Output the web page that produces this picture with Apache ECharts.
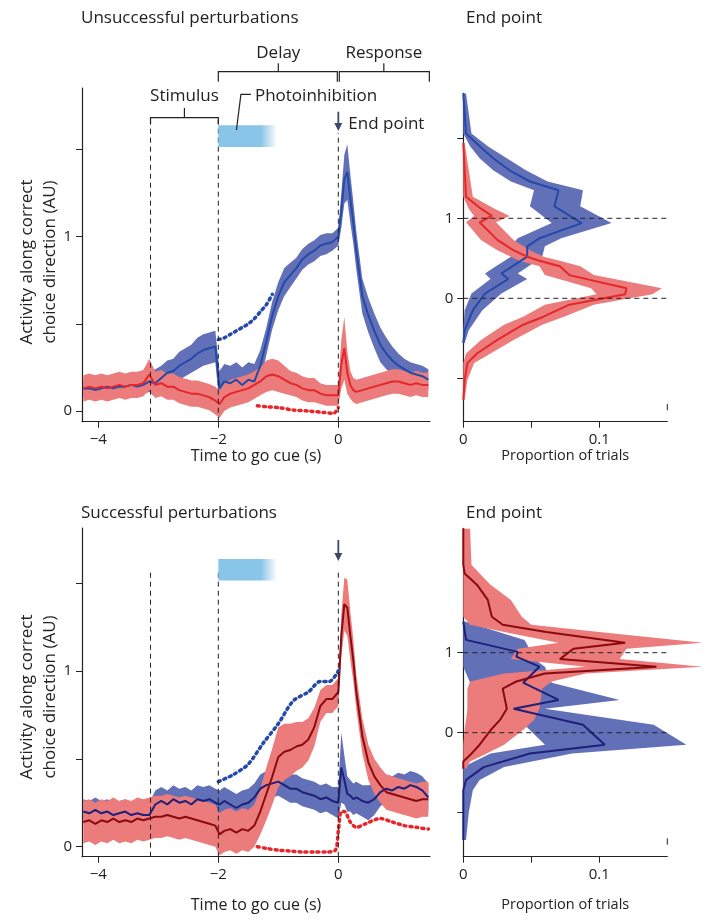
<!DOCTYPE html>
<html lang="en">
<head>
  <meta charset="UTF-8">
  <title>Activity along correct choice direction</title>
  <script src="https://cdn.jsdelivr.net/npm/echarts@6/dist/echarts.min.js"></script>
  <style>
    html, body { margin: 0; padding: 0; background: #fff; }
    #main { width: 712px; height: 921px; }
  </style>
</head>
<body>
  <div id="main"></div>
  <script>
    // time to go cue (s), shared by the two left panels
    var timeS = [-4.25,-4.15,-4.05,-3.95,-3.85,-3.75,-3.65,-3.55,-3.45,-3.35,
      -3.25,-3.15,-3.05,-2.95,-2.85,-2.75,-2.65,-2.55,-2.45,-2.35,
      -2.25,-2.15,-2.05,-1.98,-1.9,
      -1.8,-1.7,-1.6,-1.5,-1.4,-1.3,-1.2,-1.1,-1.0,-0.9,
      -0.8,-0.7,-0.6,-0.5,-0.4,-0.3,-0.2,-0.1,0,
      0.05,0.1,0.15,0.2,0.25,0.3,
      0.4,0.5,0.6,0.7,0.8,0.9,1.0,1.1,1.2,1.3,1.4,1.5];

    // unsuccessful perturbations
    var unsBlue = [0.13,0.13,0.12,0.13,0.14,0.13,0.14,0.14,0.15,0.14,
      0.15,0.17,0.16,0.19,0.22,0.23,0.26,0.28,0.30,0.33,
      0.35,0.36,0.37,0.13,0.17,
      0.16,0.18,0.15,0.18,0.17,0.26,0.40,0.55,0.66,0.74,
      0.78,0.82,0.87,0.90,0.92,0.95,0.96,0.97,1.00,
      1.15,1.33,1.37,1.22,1.08,0.92,
      0.66,0.55,0.46,0.38,0.33,0.29,0.26,0.24,0.22,0.21,0.20,0.18];
    var unsBlueErr = [0.05,0.05,0.05,0.05,0.05,0.05,0.05,0.05,0.05,0.05,
      0.05,0.06,0.08,0.07,0.07,0.07,0.08,0.08,0.08,0.09,
      0.09,0.09,0.09,0.1,0.1,
      0.1,0.1,0.1,0.1,0.1,0.09,0.08,0.08,0.08,0.08,
      0.07,0.06,0.06,0.06,0.06,0.06,0.06,0.05,0.05,
      0.1,0.14,0.16,0.14,0.12,0.11,
      0.1,0.1,0.1,0.1,0.09,0.08,0.07,0.06,0.06,0.06,0.06,0.06];
    var unsRed = [0.13,0.14,0.13,0.14,0.13,0.14,0.15,0.14,0.15,0.15,
      0.16,0.21,0.15,0.16,0.14,0.14,0.12,0.11,0.10,0.10,
      0.09,0.08,0.06,0.04,0.08,
      0.10,0.11,0.12,0.13,0.15,0.17,0.20,0.21,0.20,0.18,
      0.16,0.15,0.13,0.12,0.12,0.10,0.09,0.09,0.09,
      0.27,0.36,0.22,0.15,0.12,0.11,
      0.12,0.13,0.14,0.15,0.16,0.17,0.17,0.16,0.15,0.16,0.15,0.15];
    var unsRedErr = [0.075,0.075,0.075,0.075,0.075,0.075,0.075,0.075,0.075,0.075,
      0.075,0.09,0.075,0.075,0.075,0.075,0.075,0.075,0.075,0.075,
      0.075,0.075,0.08,0.08,0.08,
      0.08,0.08,0.08,0.08,0.08,0.08,0.09,0.09,0.09,0.08,
      0.07,0.07,0.07,0.07,0.07,0.06,0.06,0.06,0.06,
      0.14,0.18,0.12,0.08,0.07,0.07,
      0.07,0.07,0.07,0.07,0.07,0.07,0.07,0.07,0.07,0.07,0.07,0.07];
    var unsBlueDotT = [-2,-1.9,-1.8,-1.7,-1.6,-1.5,-1.4,-1.3,-1.2,-1.1];
    var unsBlueDot = [0.41,0.42,0.44,0.46,0.48,0.50,0.53,0.57,0.61,0.67];
    var unsRedDotT = [-1.35,-1.2,-1.0,-0.75,-0.5,-0.25,-0.08,0];
    var unsRedDot = [0.03,0.025,0.02,0.006,0.0,-0.008,-0.013,0.02];

    // successful perturbations
    var sucRed = [0.14,0.15,0.13,0.15,0.14,0.16,0.14,0.15,0.14,0.16,
      0.15,0.16,0.17,0.17,0.18,0.17,0.16,0.17,0.16,0.15,
      0.14,0.13,0.12,0.07,0.09,
      0.10,0.08,0.10,0.09,0.12,0.20,0.30,0.40,0.51,0.54,
      0.55,0.57,0.58,0.61,0.68,0.80,0.84,0.84,0.88,
      1.20,1.38,1.36,1.20,1.06,0.88,
      0.63,0.48,0.40,0.35,0.31,0.30,0.29,0.28,0.27,0.26,0.27,0.27];
    var sucRedErr = [0.12,0.12,0.12,0.12,0.12,0.12,0.12,0.12,0.12,0.12,
      0.12,0.12,0.12,0.12,0.12,0.12,0.12,0.12,0.12,0.12,
      0.12,0.12,0.12,0.12,0.12,
      0.12,0.12,0.12,0.12,0.12,0.13,0.15,0.16,0.17,0.16,
      0.15,0.14,0.13,0.12,0.11,0.09,0.08,0.08,0.08,
      0.12,0.15,0.16,0.14,0.12,0.1,
      0.1,0.1,0.1,0.1,0.1,0.1,0.1,0.1,0.1,0.1,0.1,0.1];
    var sucBlue = [0.20,0.19,0.21,0.19,0.20,0.18,0.19,0.20,0.18,0.19,
      0.18,0.18,0.24,0.26,0.24,0.27,0.25,0.26,0.24,0.27,
      0.26,0.27,0.25,0.24,0.26,
      0.24,0.22,0.24,0.25,0.28,0.33,0.35,0.36,0.37,0.35,
      0.33,0.33,0.31,0.30,0.29,0.27,0.28,0.26,0.25,
      0.45,0.38,0.30,0.29,0.27,0.28,
      0.26,0.25,0.27,0.31,0.33,0.32,0.34,0.33,0.35,0.34,0.32,0.28];
    var sucBlueErr = [0.07,0.07,0.07,0.07,0.07,0.07,0.07,0.07,0.07,0.07,
      0.07,0.07,0.08,0.08,0.08,0.08,0.08,0.08,0.08,0.08,
      0.08,0.08,0.08,0.08,0.08,
      0.08,0.08,0.08,0.08,0.08,0.08,0.08,0.08,0.08,0.08,
      0.08,0.08,0.08,0.08,0.08,0.08,0.08,0.08,0.09,
      0.2,0.14,0.1,0.09,0.09,0.09,
      0.09,0.1,0.09,0.08,0.08,0.08,0.08,0.08,0.08,0.08,0.08,0.08];
    var sucBlueDotT = [-2,-1.75,-1.5,-1.25,-1.0,-0.75,-0.5,-0.3,-0.15,0];
    var sucBlueDot = [0.37,0.41,0.47,0.59,0.70,0.83,0.88,0.94,0.94,1.0];
    var sucRedDotT = [-1.35,-1.2,-1.0,-0.8,-0.6,-0.4,-0.2,-0.05,0,0.05,0.1,0.2,0.3,0.45,0.7,0.9,1.1,1.3,1.5];
    var sucRedDot = [0.0,-0.01,-0.02,-0.025,-0.03,-0.03,-0.03,-0.02,0.09,0.2,0.2,0.14,0.11,0.13,0.16,0.14,0.12,0.11,0.10];

    // end point distributions (activity level, proportion of trials)
    var epUnsBlueY = [2.56,2.06,1.9,1.75,1.6,1.46,1.35,1.15,0.94,0.75,0.65,0.52,0.4,0.31,0.24,0.06,-0.15,-0.4,-0.56];
    var epUnsBlue = [0,0.002,0.012,0.022,0.034,0.049,0.070,0.067,0.087,0.056,0.047,0.047,0.036,0.028,0.033,0.016,0.007,0.001,0];
    var epUnsBlueLo = [0,0,0.005,0.012,0.022,0.035,0.052,0.049,0.065,0.04,0.035,0.035,0.024,0.016,0.02,0.006,0.001,0,0];
    var epUnsBlueHi = [0.002,0.006,0.018,0.032,0.046,0.062,0.088,0.086,0.109,0.072,0.06,0.058,0.048,0.04,0.047,0.028,0.014,0.004,0.001];
    var epUnsRedY = [1.94,1.27,1.12,1.03,0.95,0.73,0.6,0.52,0.47,0.4,0.29,0.125,0.05,-0.08,-0.23,-0.33,-0.52,-0.69,-0.81,-1.02,-1.27];
    var epUnsRed = [0,0.002,0.013,0.021,0.012,0.025,0.037,0.047,0.056,0.071,0.078,0.120,0.119,0.078,0.059,0.044,0.025,0.010,0.003,0.001,0];
    var epUnsRedLo = [0,0,0.004,0.008,0.002,0.013,0.025,0.035,0.041,0.056,0.06,0.094,0.098,0.06,0.044,0.03,0.013,0.002,0,0,0];
    var epUnsRedHi = [0.001,0.007,0.023,0.034,0.024,0.037,0.049,0.059,0.071,0.086,0.096,0.146,0.139,0.096,0.074,0.058,0.037,0.02,0.008,0.003,0.001];

    var epSucRedY = [2.55,2.1,1.99,1.85,1.66,1.45,1.35,1.26,1.125,1.05,0.92,0.825,0.74,0.64,0.55,0.30,0.16,0.05,-0.15,-0.28,-0.36,-0.45];
    var epSucRed = [0,0,0.001,0.010,0.018,0.021,0.029,0.061,0.119,0.081,0.071,0.142,0.060,0.039,0.029,0.032,0.027,0.021,0.012,0.005,0,0];
    var epSucRedLo = [0,0,0,0,0,0,0.005,0.03,0.07,0.04,0.035,0.09,0.03,0.005,0.003,0.003,0.002,0.001,0,0,0,0];
    var epSucRedHi = [0.005,0.006,0.012,0.02,0.035,0.043,0.05,0.1,0.176,0.12,0.115,0.176,0.09,0.065,0.058,0.056,0.052,0.045,0.03,0.015,0.005,0.002];
    var epSucBlueY = [1.39,1.16,1.01,0.95,0.825,0.625,0.41,0.30,0.10,-0.15,-0.26,-0.43,-0.59,-0.72,-1.0,-1.34];
    var epSucBlue = [0,0.002,0.040,0.039,0.056,0.044,0.070,0.037,0.088,0.104,0.049,0.015,0.002,0,0,0];
    var epSucBlueLo = [0,0,0,0,0,0.005,0.05,0.02,0.045,0.06,0.02,0,0,0,0,0];
    var epSucBlueHi = [0.001,0.045,0.05,0.05,0.06,0.065,0.115,0.06,0.14,0.164,0.08,0.03,0.012,0.007,0.004,0.002];

    // task epochs (s)
    var stimOn = -3.13, delayOn = -2, goCue = 0, photoOff = -1.02, respEnd = 1.517;

    var FONT = '"Open Sans", "Noto Sans", sans-serif';
    var INK = '#222';
    var BAND_BLUE = '#6270b8', LINE_BLUE = '#2449a8';
    var BAND_RED = '#ec7b7b', LINE_RED = '#e5262b';
    var LINE_DARKRED = '#8a0a10', LINE_NAVY = '#1e207a';

    function zip(a, b) { return a.map(function (v, i) { return [v, b[i]]; }); }
    function minus(a, e) { return a.map(function (v, i) { return v - e[i]; }); }
    function plus(a, e) { return a.map(function (v, i) { return v + e[i]; }); }
    function fmt(v) { return v < 0 ? '\u2212' + Math.abs(v) : String(v); }

    // filled band between lo and hi; vertical = band runs along the y axis
    function band(gi, base, lo, hi, color, vertical) {
      return {
        type: 'custom', xAxisIndex: gi, yAxisIndex: gi, silent: true, z: 1,
        data: [[vertical ? 0 : base[0], vertical ? base[0] : 0]],
        renderItem: function (params, api) {
          var pts = [];
          for (var i = 0; i < base.length; i++) pts.push(api.coord(vertical ? [lo[i], base[i]] : [base[i], lo[i]]));
          for (var j = base.length - 1; j >= 0; j--) pts.push(api.coord(vertical ? [hi[j], base[j]] : [base[j], hi[j]]));
          return { type: 'polygon', shape: { points: pts }, style: { fill: color } };
        }
      };
    }
    function line(gi, data, color, width, z) {
      return {
        type: 'line', xAxisIndex: gi, yAxisIndex: gi, data: data, showSymbol: false, silent: true,
        lineStyle: { color: color, width: width || 2 }, z: z || 3
      };
    }
    function dotted(gi, data, color) {
      return {
        type: 'line', xAxisIndex: gi, yAxisIndex: gi, data: data, showSymbol: false, silent: true, smooth: 0.3,
        lineStyle: { color: color, width: 3.5, type: [2, 4], cap: 'round' }, z: 4
      };
    }
    function dashed(gi, data) {
      return {
        type: 'line', xAxisIndex: gi, yAxisIndex: gi, data: data, showSymbol: false, silent: true,
        lineStyle: { color: INK, width: 1, type: [5, 4] }, z: 5
      };
    }

    function timeAxis(gi, gap) {
      return {
        type: 'value', gridIndex: gi, min: -4.272, max: 1.528, position: 'bottom',
        name: 'Time to go cue (s)', nameLocation: 'middle', nameGap: gap,
        nameTextStyle: { fontSize: 16, color: INK, fontFamily: FONT },
        axisLine: { onZero: false, lineStyle: { color: INK, width: 1.2 } },
        axisTick: { customValues: [-4, -2, 0], length: 6, lineStyle: { color: INK } },
        axisLabel: { customValues: [-4, -2, 0], formatter: fmt, fontSize: 15, color: INK, margin: 11, fontFamily: FONT },
        splitLine: { show: false }
      };
    }
    function propAxis(gi, gap) {
      return {
        type: 'value', gridIndex: gi, min: 0, max: 0.15, position: 'bottom',
        name: 'Proportion of trials', nameLocation: 'middle', nameGap: gap,
        nameTextStyle: { fontSize: 14.5, color: INK, fontFamily: FONT },
        axisLine: { onZero: false, lineStyle: { color: INK, width: 1.2 } },
        axisTick: { customValues: [0, 0.05, 0.1], length: 6, lineStyle: { color: INK } },
        axisLabel: { customValues: [0, 0.1], fontSize: 15, color: INK, margin: 11, fontFamily: FONT },
        splitLine: { show: false }
      };
    }
    function valAxis(gi, min, max, ticks) {
      return {
        type: 'value', gridIndex: gi, min: min, max: max,
        axisLine: { show: true, onZero: false, lineStyle: { color: INK, width: 1.2 } },
        axisTick: { show: true, customValues: ticks, length: 6, lineStyle: { color: INK } },
        axisLabel: { customValues: [0, 1], fontSize: 15, color: INK, margin: 10, fontFamily: FONT },
        splitLine: { show: false }
      };
    }

    var series = [
      // unsuccessful, time course
      band(0, timeS, minus(unsBlue, unsBlueErr), plus(unsBlue, unsBlueErr), BAND_BLUE),
      band(0, timeS, minus(unsRed, unsRedErr), plus(unsRed, unsRedErr), BAND_RED),
      line(0, zip(timeS, unsBlue), LINE_BLUE),
      line(0, zip(timeS, unsRed), LINE_RED),
      dotted(0, zip(unsBlueDotT, unsBlueDot), LINE_BLUE),
      dotted(0, zip(unsRedDotT, unsRedDot), LINE_RED),
      dashed(0, [[stimOn, -0.061], [stimOn, 1.683]]),
      dashed(0, [[delayOn, -0.061], [delayOn, 1.683]]),
      dashed(0, [[goCue, -0.061], [goCue, 1.595]]),
      // unsuccessful, end point
      band(1, epUnsBlueY, epUnsBlueLo, epUnsBlueHi, BAND_BLUE, true),
      band(1, epUnsRedY, epUnsRedLo, epUnsRedHi, BAND_RED, true),
      line(1, zip(epUnsBlue, epUnsBlueY), LINE_BLUE),
      line(1, zip(epUnsRed, epUnsRedY), LINE_RED),
      dashed(1, [[0, 0], [0.15, 0]]),
      dashed(1, [[0, 1], [0.15, 1]]),
      line(1, [[0.15, -1.32], [0.15, -1.4]], INK, 1),
      // successful, time course
      band(2, timeS, minus(sucBlue, sucBlueErr), plus(sucBlue, sucBlueErr), BAND_BLUE),
      band(2, timeS, minus(sucRed, sucRedErr), plus(sucRed, sucRedErr), BAND_RED),
      line(2, zip(timeS, sucBlue), LINE_NAVY),
      line(2, zip(timeS, sucRed), LINE_DARKRED),
      dotted(2, zip(sucBlueDotT, sucBlueDot), LINE_BLUE),
      dotted(2, zip(sucRedDotT, sucRedDot), LINE_RED),
      dashed(2, [[stimOn, -0.057], [stimOn, 1.575]]),
      dashed(2, [[delayOn, -0.057], [delayOn, 1.575]]),
      dashed(2, [[goCue, -0.057], [goCue, 1.575]]),
      // successful, end point
      band(3, epSucBlueY, epSucBlueLo, epSucBlueHi, BAND_BLUE, true),
      band(3, epSucRedY, epSucRedLo, epSucRedHi, BAND_RED, true),
      line(3, zip(epSucBlue, epSucBlueY), LINE_NAVY),
      line(3, zip(epSucRed, epSucRedY), LINE_DARKRED),
      dashed(3, [[0, 0], [0.15, 0]]),
      dashed(3, [[0, 1], [0.15, 1]]),
      line(3, [[0.15, -1.32], [0.15, -1.4]], INK, 1)
    ];

    var chart = echarts.init(document.getElementById('main'));
    chart.setOption({
      animation: false,
      backgroundColor: '#fff',
      textStyle: { fontFamily: FONT },
      grid: [
        { left: 82, top: 88, width: 348, height: 333.7 },
        { left: 463.3, top: 93.3, width: 204, height: 328.4 },
        { left: 82, top: 528, width: 348, height: 328.7 },
        { left: 463.3, top: 528.3, width: 204, height: 328.4 }
      ],
      xAxis: [timeAxis(0, 25), propAxis(1, 25), timeAxis(2, 41), propAxis(3, 41)],
      yAxis: [
        valAxis(0, -0.061, 1.853, [0, 0.5, 1, 1.5]),
        valAxis(1, -1.5425, 2.5625, [-1, 0, 1, 2]),
        valAxis(2, -0.057, 1.813, [0, 0.5, 1, 1.5]),
        valAxis(3, -1.55, 2.555, [-1, 0, 1])
      ],
      series: series
    });

    // annotations: titles, epoch brackets, photoinhibition bar, end point arrows
    function P(gi, x, y) { return chart.convertToPixel({ gridIndex: gi }, [x, y]); }
    var gfx = [];
    function poly(pts, color, w) {
      gfx.push({ type: 'polyline', silent: true, z: 100, shape: { points: pts },
        style: { stroke: color || INK, lineWidth: w || 1.2, fill: null } });
    }
    function txt(x, y, s, align, size) {
      gfx.push({ type: 'text', silent: true, z: 100, x: x, y: y,
        style: { text: s, fontSize: size || 17, fontFamily: FONT, fill: INK, align: align || 'center', verticalAlign: 'middle' } });
    }

    txt(81, 18, 'Unsuccessful perturbations', 'left');
    txt(466, 18, 'End point', 'left');
    txt(81, 513, 'Successful perturbations', 'left');
    txt(466, 513, 'End point', 'left');

    [[0, 262], [2, 697]].forEach(function (d) {
      gfx.push({ type: 'text', silent: true, z: 100, x: 38.5, y: d[1], rotation: Math.PI / 2,
        style: { text: 'Activity along correct\nchoice direction (AU)', fontSize: 17, lineHeight: 23,
          fontFamily: FONT, fill: INK, align: 'center', verticalAlign: 'middle' } });
    });

    var xStim = P(0, stimOn, 0)[0], xDelay = P(0, delayOn, 0)[0], xGo = P(0, goCue, 0)[0], xEnd = P(0, respEnd, 0)[0];
    // delay / response brackets
    poly([[xDelay, 81.7], [xDelay, 71.7], [xGo - 1, 71.7], [xGo - 1, 81.7]]);
    poly([[(xDelay + xGo) / 2, 71.7], [(xDelay + xGo) / 2, 63.3]]);
    txt((xDelay + xGo) / 2, 53, 'Delay');
    poly([[xGo + 1, 81.7], [xGo + 1, 71.7], [xEnd, 71.7], [xEnd, 81.7]]);
    poly([[(xGo + xEnd) / 2, 71.7], [(xGo + xEnd) / 2, 63.3]]);
    txt((xGo + xEnd) / 2, 53, 'Response');
    // stimulus bracket
    poly([[xStim, 124], [xStim, 117.7], [xDelay, 117.7], [xDelay, 124]]);
    poly([[(xStim + xDelay) / 2, 117.7], [(xStim + xDelay) / 2, 108]]);
    txt((xStim + xDelay) / 2, 95.7, 'Stimulus');
    // photoinhibition label and bars
    var xPh = P(0, -1.39, 0)[0];
    txt(xPh, 95.7, 'Photoinhibition', 'left');
    poly([[xPh - 4, 94.3], [xPh - 14, 94.3], [xPh - 18.5, 130]]);
    [[0, 1.64, 1.515], [2, 1.637, 1.514]].forEach(function (b) {
      var a = P(b[0], delayOn, b[1]), c = P(b[0], photoOff, b[2]);
      gfx.push({ type: 'rect', silent: true, z: 90, shape: { x: a[0], y: a[1], width: c[0] - a[0], height: c[1] - a[1] },
        style: { fill: new echarts.graphic.LinearGradient(0, 0, 1, 0, [
          { offset: 0, color: '#89c4e9' }, { offset: 0.72, color: '#89c4e9' }, { offset: 1, color: '#ffffff' }]) } });
    });
    // end point arrows
    [[111.7, 131], [540, 561]].forEach(function (r) {
      poly([[xGo, r[0]], [xGo, r[1] - 6]], '#3b4a68', 1.8);
      gfx.push({ type: 'polygon', silent: true, z: 100,
        shape: { points: [[xGo - 4, r[1] - 8], [xGo + 4, r[1] - 8], [xGo, r[1]]] }, style: { fill: '#3b4a68' } });
    });
    txt(xGo + 10, 124, 'End point', 'left');

    chart.setOption({ graphic: gfx });
  </script>
</body>
</html>
